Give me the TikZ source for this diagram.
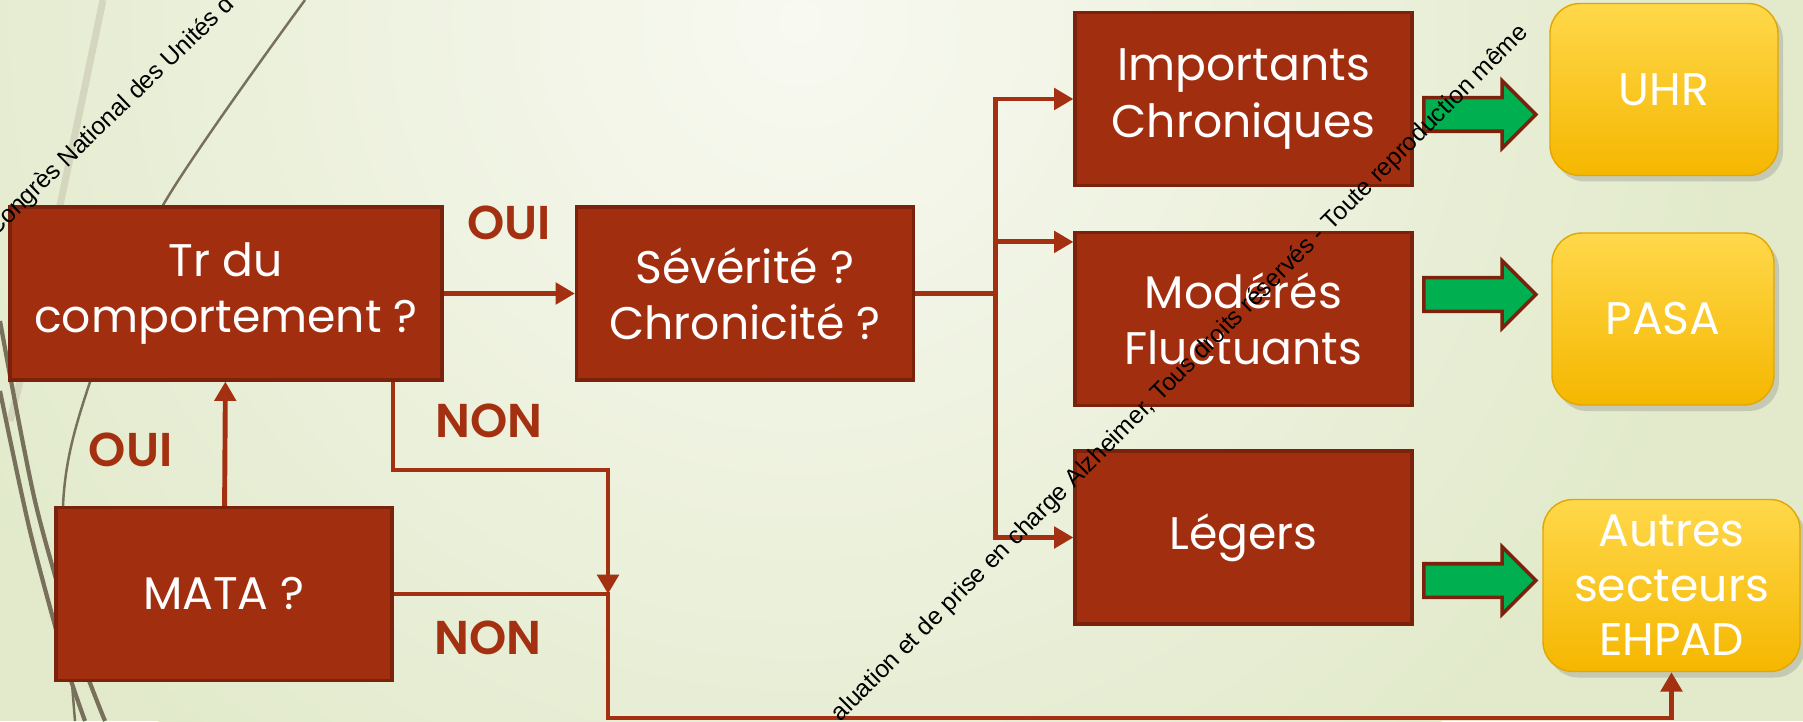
\documentclass[tikz,border=0pt]{standalone}
\usepackage{fontspec}
\setmainfont{Poppins}
\newfontfamily\wmfont{Liberation Sans}
\newfontfamily\labelfont{Poppins SemiBold}
\usetikzlibrary{arrows.meta, shapes.arrows, shadows, positioning}
\definecolor{rustred}{HTML}{A22E10}
\definecolor{rustdark}{HTML}{7A220C}
\definecolor{labelred}{HTML}{A33111}
\definecolor{goldtop}{HTML}{FFD84A}
\definecolor{goldmid}{HTML}{FFC107}
\definecolor{goldbottom}{HTML}{F5B700}
\definecolor{golddraw}{HTML}{E3A600}
\definecolor{arrowgreen}{HTML}{00B050}
\definecolor{paper}{HTML}{E2EACB}
\definecolor{paperlight}{HTML}{F8F9F1}
\definecolor{olive}{HTML}{77705A}
\definecolor{beige}{HTML}{D4D6BE}
\tikzstyle{question} = [rectangle, minimum width=3.37cm, minimum height=1.73cm, text centered, align=center, text=white, draw=rustdark, line width=0.9pt, fill=rustred, font=\fontsize{13}{16}\selectfont]
\tikzstyle{unit} = [rectangle, rounded corners=0.3cm, minimum width=2.22cm, minimum height=1.72cm, text centered, align=center, text=white, draw=golddraw, top color=goldtop, middle color=goldmid, bottom color=goldbottom, drop shadow={shadow xshift=0.05cm, shadow yshift=-0.06cm, opacity=0.3}, font=\fontsize{13}{15.5}\selectfont]
\tikzstyle{bigarrow} = [single arrow, draw=rustdark, line width=1pt, fill=arrowgreen, minimum height=1.12cm, single arrow head extend=0.17cm, single arrow head indent=0pt, inner sep=0pt]
\tikzstyle{answer} = [text=labelred, inner sep=0pt, font=\labelfont\fontsize{13.5}{16}\selectfont]
\tikzstyle{wmtext} = [text=black, inner sep=0pt, font=\wmfont\fontsize{7}{8}\selectfont]
\tikzstyle{arrow} = [draw=labelred, line width=1.4pt, -{Triangle[length=5.5pt, width=6pt]}]
\tikzstyle{line} = [draw=labelred, line width=1.4pt, -]

\begin{document}
\begin{tikzpicture}[node distance=1.5cm]
\useasboundingbox (0,0) rectangle (18.03,7.21);

% Background
\fill[paper] (0,0) rectangle (18.03,7.21);
\begin{scope}
\clip (0,0) rectangle (18.03,7.21);
\shade[inner color=paperlight, outer color=paper] (8.0,7.0) circle (9.5cm);
\draw[beige, line width=2pt] plot[smooth] coordinates {(1.03,7.21) (0.43,4.36) (0.1,3.0)};
\draw[olive, line width=0.7pt] plot[smooth] coordinates {(3.05,7.21) (1.62,5.14) (0.90,3.39) (0.63,2.15) (0.75,0)};
\draw[olive, line width=1.2pt] plot[smooth] coordinates {(0,4.0) (0.35,2.2) (0.75,0.8) (1.05,0)};
\draw[olive, line width=1.2pt] plot[smooth] coordinates {(0,3.3) (0.3,1.9) (0.65,0.6) (0.85,0)};
\end{scope}

% Nodes
\node (trdu) [question, minimum width=4.32cm] at (2.26,4.275) {Tr du\\comportement ?};

\node (mata) [question, minimum width=3.36cm, below of=trdu, yshift=-1.505cm, xshift=-0.02cm] {MATA ?};

\node (severite) [question, right of=trdu, xshift=3.69cm] {Sévérité ?\\Chronicité ?};

\node (importants) [question, right of=severite, xshift=3.485cm, yshift=1.945cm] {Importants\\Chroniques};

\node (moderes) [question, below of=importants, yshift=-0.7cm] {Modérés\\Fluctuants};

\node (legers) [question, below of=moderes, yshift=-0.685cm] {Légers};

\node (uhr) [unit, minimum width=2.28cm, right of=importants, xshift=2.705cm, yshift=0.095cm] {UHR};

\node (pasa) [unit, right of=moderes, xshift=2.695cm] {PASA};

\node (autres) [unit, minimum width=2.57cm, right of=legers, xshift=2.78cm, yshift=-0.48cm] {Autres\\secteurs\\EHPAD};

\node (toUhr) [bigarrow, right of=importants, xshift=0.78cm, yshift=-0.155cm] {\rule{0pt}{0.30cm}};
\node (toPasa) [bigarrow, right of=moderes, xshift=0.78cm, yshift=0.245cm] {\rule{0pt}{0.30cm}};
\node (toAutres) [bigarrow, right of=legers, xshift=0.78cm, yshift=-0.43cm] {\rule{0pt}{0.30cm}};

\coordinate (branch) at ([xshift=0.805cm]severite.east);
\coordinate (nonTurn) at (6.08,2.51);
\coordinate (nonJoin) at (mata.east -| nonTurn);

% Arrows
\draw [arrow] (trdu) -- node[answer, above=0.515cm] {OUI} (severite);
\draw [arrow] (mata) -- node[answer, left=0.5cm, pos=0.45] {OUI} (trdu);
\draw [arrow] ([xshift=1.67cm]trdu.south) |- node[answer, right=0.4cm, pos=0.22] {NON} (nonTurn) -- (nonJoin);
\draw [arrow] (mata.east) -- node[answer, below=0.24cm, pos=0.44] {NON} (nonJoin) -- ++(0,-1.24) -| (autres.south);

\draw [line] (severite.east) -- (branch);
\draw [arrow] (branch) |- (importants.west);
\draw [arrow] (branch) |- ([yshift=-0.11cm]moderes.north west);
\draw [arrow] (branch) |- (legers.west);

% Watermark
\begin{scope}
\clip (0,0) rectangle (18.03,7.21);
\node (wmA) [wmtext, rotate=44, anchor=base west] at (-0.05,4.83) {Congrès National des Unités d};
\node (wmB) [wmtext, rotate=45, anchor=base west] at (8.40,-0.02) {aluation et de prise en charge Alzheimer, Tous droits réservés - Toute reproduction même};
\end{scope}

\end{tikzpicture}
\end{document}
